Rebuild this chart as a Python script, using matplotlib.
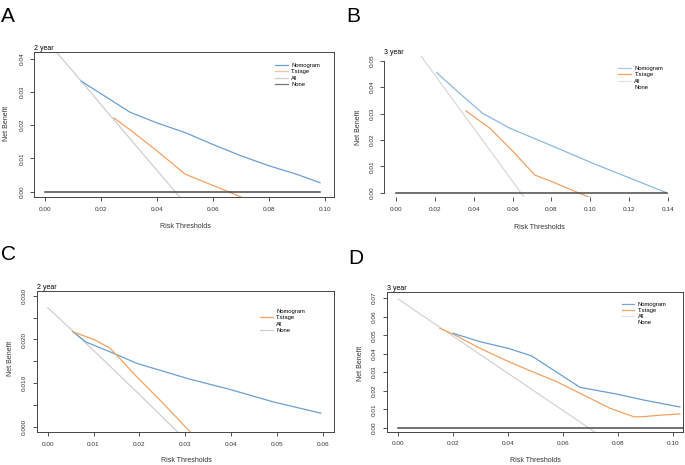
import matplotlib
matplotlib.use('Agg')
import matplotlib.pyplot as plt
from matplotlib.lines import Line2D

plt.rcParams['font.family'] = ['Liberation Sans', 'DejaVu Sans']

W, H = 685, 465

# colours
c_nom = '#6a9fd4'
c_ts = '#f3a163'
c_all = '#cfcfcf'
c_none = '#4a4a4a'

# ---- Panel A (2 year) ----
a_nom_x = [0.0129, 0.0304, 0.04, 0.05, 0.06, 0.07, 0.08, 0.09, 0.0982]
a_nom_y = [0.0333, 0.0239, 0.0207, 0.0178, 0.0142, 0.0108, 0.0078, 0.0052, 0.0027]
a_ts_x = [0.0246, 0.0304, 0.04, 0.05, 0.0649, 0.0708]
a_ts_y = [0.0222, 0.0186, 0.0123, 0.0053, 0.0002, -0.0019]
a_all_x = [0.0, 0.01, 0.02, 0.03, 0.04, 0.05]
a_all_y = [0.046, 0.0362, 0.0262, 0.0163, 0.0064, -0.0035]
a_none_x = [0.0, 0.0982]

# ---- Panel B (3 year) ----
b_nom_x = [0.0209, 0.033, 0.0446, 0.0587, 0.0805, 0.1015, 0.1216, 0.1393]
b_nom_y = [0.0455, 0.0375, 0.0301, 0.0244, 0.0177, 0.0111, 0.0052, 0.0]
b_ts_x = [0.036, 0.0484, 0.0604, 0.0715, 0.0803, 0.0938, 0.101]
b_ts_y = [0.031, 0.0244, 0.0155, 0.0067, 0.0042, 0.0, -0.0021]
b_all_x = [0.0, 0.01, 0.02, 0.03, 0.04, 0.05, 0.06, 0.07]
b_all_y = [0.0647, 0.0546, 0.0446, 0.0345, 0.0245, 0.0144, 0.0043, -0.0058]
b_none_x = [0.0, 0.1393]

# ---- Panel C (2 year) ----
c_nom_x = [0.00545, 0.0084, 0.0147, 0.0194, 0.0309, 0.0396, 0.0492, 0.0596]
c_nom_y = [0.0218, 0.0194, 0.0167, 0.01454, 0.01094, 0.0086, 0.0057, 0.0031]
c_ts_x = [0.00545, 0.0103, 0.0136, 0.0147, 0.0194, 0.0245, 0.0312]
c_ts_y = [0.0218, 0.0199, 0.018, 0.0168, 0.0115, 0.0061, -0.0013]
c_all_x = [0.0, 0.01, 0.02, 0.03]
c_all_y = [0.0273, 0.0175, 0.0074, -0.0029]

# ---- Panel D (3 year) ----
d_nom_x = [0.02, 0.0297, 0.04, 0.0485, 0.0661, 0.0794, 0.0891, 0.1024]
d_nom_y = [0.051, 0.0465, 0.0429, 0.0388, 0.0218, 0.0182, 0.015, 0.0112]
d_ts_x = [0.0151, 0.02, 0.0285, 0.0388, 0.0479, 0.0576, 0.0673, 0.077, 0.0857, 0.0885, 0.0964, 0.1024]
d_ts_y = [0.0537, 0.0506, 0.0438, 0.0366, 0.0308, 0.0249, 0.0177, 0.0105, 0.0059, 0.0059, 0.0069, 0.0074]
d_all_x = [0.0, 0.01, 0.02, 0.03, 0.04, 0.05, 0.06, 0.07, 0.08]
d_all_y = [0.0695, 0.0594, 0.0494, 0.0393, 0.0293, 0.0192, 0.0092, -0.0009, -0.011]
d_none_x = [0.0, 0.11]

labels = ['Nomogram', 'T.stage', 'All', 'None']

fig = plt.figure(figsize=(W / 100, H / 100), dpi=100)


def px_axes(l, t, r, b):
    return fig.add_axes([l / W, 1 - b / H, (r - l) / W, (b - t) / H])


def style(ax, xt, yt, yfmt, xfmt='%.2f'):
    ax.set_xticks(xt)
    ax.set_xticklabels([xfmt % v for v in xt])
    ax.set_yticks(yt)
    ax.set_yticklabels([yfmt(v) for v in yt], rotation=90, va='center')
    ax.tick_params(direction='out', length=3, width=0.6, pad=4, labelsize=4.6, colors='#333333')
    for s in ax.spines.values():
        s.set_linewidth(0.7)
        s.set_color('#444444')


def add_legend(ax, colors, x, y):
    handles = [Line2D([0], [0], color=c, lw=0.9) for c in colors]
    ax.legend(handles, labels, loc='upper left', bbox_to_anchor=(x, y), frameon=False,
              fontsize=4.2, handlelength=2.2, handletextpad=0.6, labelspacing=0.2,
              borderpad=0, borderaxespad=0)


# Panel A
ax = px_axes(34, 52.5, 334, 197)
ax.plot(a_all_x, a_all_y, color=c_all, lw=0.9)
ax.plot(a_ts_x, a_ts_y, color=c_ts, lw=0.9)
ax.plot(a_nom_x, a_nom_y, color=c_nom, lw=0.9)
ax.plot(a_none_x, [0, 0], color=c_none, lw=1.1)
ax.set_xlim(-0.00393, 0.1032)
ax.set_ylim(-0.0016, 0.0419)
style(ax, [0, 0.02, 0.04, 0.06, 0.08, 0.10], [0, 0.01, 0.02, 0.03, 0.04], lambda v: '%.2f' % v)
ax.set_title('2 year', loc='left', fontsize=5, pad=1.5)
add_legend(ax, [c_nom, '#f7c398', c_all, '#777777'], 0.803, 0.927)

# Panel B
ax = px_axes(384, 56, 677, 197)
ax.plot(b_all_x, b_all_y, color='#d9d9d9', lw=0.9)
ax.plot(b_ts_x, b_ts_y, color=c_ts, lw=0.9)
ax.plot(b_nom_x, b_nom_y, color='#8db8e0', lw=0.9)
ax.plot(b_none_x, [0, 0], color=c_none, lw=1.1)
ax.set_xlim(-0.00618, 0.1446)
ax.set_ylim(-0.0016, 0.0518)
style(ax, [0, 0.02, 0.04, 0.06, 0.08, 0.10, 0.12, 0.14], [0, 0.01, 0.02, 0.03, 0.04, 0.05],
      lambda v: '%.2f' % v)
ax.spines['top'].set_visible(False)
ax.spines['right'].set_visible(False)
ax.spines['bottom'].set_visible(False)
ax.spines['left'].set_bounds(0, 0.05)
ax.set_title('3 year', loc='left', fontsize=5, pad=1.5)
add_legend(ax, ['#a9cbe8', c_ts, '#e3e3e3', 'white'], 0.799, 0.929)

# Panel C
ax = px_axes(36.7, 291, 334.3, 432.3)
ax.plot(c_all_x, c_all_y, color=c_all, lw=0.9)
ax.plot(c_nom_x, c_nom_y, color=c_nom, lw=0.9)
ax.plot(c_ts_x, c_ts_y, color=c_ts, lw=0.9)
ax.set_xlim(-0.0024, 0.06254)
ax.set_ylim(-0.00128, 0.03112)
style(ax, [0, 0.01, 0.02, 0.03, 0.04, 0.05, 0.06], [0, 0.005, 0.01, 0.015, 0.02, 0.025, 0.03],
      lambda v: ('%.3f' % v) if round(v * 1000) % 10 == 0 else '')
ax.set_title('2 year', loc='left', fontsize=5, pad=1.5)
add_legend(ax, ['white', c_ts, 'white', c_all], 0.75, 0.873)

# Panel D
ax = px_axes(386.7, 292.3, 683, 431.7)
ax.plot(d_all_x, d_all_y, color='#d3d3d3', lw=0.9)
ax.plot(d_ts_x, d_ts_y, color=c_ts, lw=0.9)
ax.plot(d_nom_x, d_nom_y, color=c_nom, lw=0.9)
ax.plot(d_none_x, [0, 0], color=c_none, lw=1.1)
ax.set_xlim(-0.00422, 0.10353)
ax.set_ylim(-0.00216, 0.0732)
style(ax, [0, 0.02, 0.04, 0.06, 0.08, 0.10], [0, 0.01, 0.02, 0.03, 0.04, 0.05, 0.06, 0.07],
      lambda v: '%.2f' % v)
ax.set_title('3 year', loc='left', fontsize=5, pad=1.5)
add_legend(ax, ['#7aa7d6', c_ts, '#e3e3e3', 'white'], 0.793, 0.934)

# axis labels and panel letters (pixel positions)
def ptext(x, y, s, **kw):
    fig.text(x / W, 1 - y / H, s, **kw)

for x, y in [(7, 123), (358, 127), (10, 358), (360, 363)]:
    ptext(x, y, 'Net Benefit', rotation=90, ha='center', va='center', fontsize=5, color='#333333')
for x, y in [(185, 226), (539, 227), (186, 460), (535, 460)]:
    ptext(x, y, 'Risk Thresholds', ha='center', va='center', fontsize=5, color='#333333')
for x, y, s in [(1, 16, 'A'), (346, 16, 'B'), (1, 255, 'C'), (348, 258, 'D')]:
    ptext(x, y, s, ha='left', va='center', fontsize=15)

fig.savefig('out.png', dpi=100)
